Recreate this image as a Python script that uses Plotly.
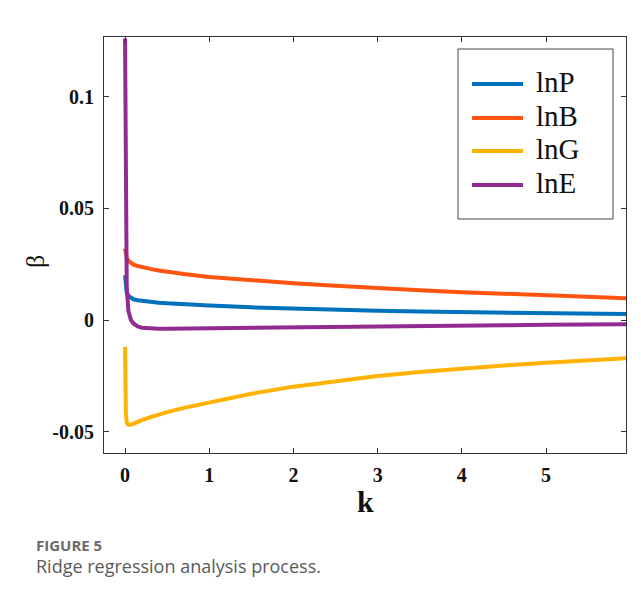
import plotly.graph_objects as go

# ---- data ----
k = [0, 0.005, 0.01, 0.02, 0.04, 0.07, 0.1, 0.15, 0.2, 0.3, 0.4, 0.5, 0.7,
     1.0, 1.5, 2.0, 2.5, 3.0, 3.5, 4.0, 4.5, 5.0, 5.5, 5.95]

lnP = [0.020, 0.016, 0.014, 0.0122, 0.0108, 0.0099, 0.0093, 0.0089, 0.0086, 0.0081,
       0.0078, 0.0075, 0.0070, 0.0065, 0.0057, 0.0051, 0.0046, 0.0042, 0.0038,
       0.0035, 0.0032, 0.0030, 0.0028, 0.0027]
lnB = [0.032, 0.030, 0.029, 0.0278, 0.0265, 0.0255, 0.0248, 0.0242, 0.0237, 0.0229,
       0.0222, 0.0216, 0.0206, 0.0193, 0.0178, 0.0165, 0.0154, 0.0142, 0.0133,
       0.0125, 0.0117, 0.0110, 0.0104, 0.0098]
lnG = [-0.012, -0.035, -0.042, -0.0458, -0.0468, -0.0468, -0.0463, -0.0455, -0.0448,
       -0.0435, -0.0423, -0.0412, -0.0393, -0.0370, -0.0330, -0.0298, -0.0272,
       -0.0250, -0.0232, -0.0216, -0.0203, -0.0191, -0.0180, -0.0171]
lnE = [0.126, 0.06, 0.035, 0.015, 0.004, 0.0, -0.0015, -0.0028, -0.0034, -0.0038,
       -0.0039, -0.0039, -0.0038, -0.0036, -0.0034, -0.0032, -0.0030, -0.0028,
       -0.0026, -0.0024, -0.0023, -0.0021, -0.0020, -0.0019]

series_names = ["lnP", "lnB", "lnG", "lnE"]
series_values = [lnP, lnB, lnG, lnE]
series_colors = ["#0072BD", "#FF5310", "#FFB300", "#922B8F"]

x_ticks = [0, 1, 2, 3, 4, 5]
y_ticks = [-0.05, 0, 0.05, 0.1]
y_tick_labels = ["-0.05", "0", "0.05", "0.1"]

# ---- layout geometry (window pixels; page body has an 8px margin) ----
OFF = 8
WIN_W, WIN_H = 641, 603
W, H = WIN_W - OFF, WIN_H - OFF
PL, PR, PT, PB = 104, 626, 37, 453          # plot area in window pixels
L, T = PL - OFF, PT - OFF
R, B = (OFF + W) - PR, (OFF + H) - PB
PW, PH = PR - PL, PB - PT


def px(x):
    return (x - PL) / PW


def py(y):
    return (PB - y) / PH


SERIF = "Liberation Serif, Times New Roman, serif"
SANS = "Open Sans, Noto Sans, sans-serif"

fig = go.Figure()
for name, vals, col in zip(series_names, series_values, series_colors):
    fig.add_trace(go.Scatter(x=k, y=vals, mode="lines", name=name,
                             line=dict(color=col, width=4),
                             showlegend=False))

axis_common = dict(showline=True, linecolor="#333333", linewidth=1, mirror="ticks",
                   ticks="inside", ticklen=5, tickcolor="#333333",
                   showgrid=False, zeroline=False,
                   tickfont=dict(family=SERIF, size=20, color="#111111"))

fig.update_xaxes(range=[-0.25, 5.95], tickvals=x_ticks,
                 ticktext=[f"<b>{t}</b>" for t in x_ticks],
                 ticklabelstandoff=4, **axis_common)
fig.update_yaxes(range=[-0.0595, 0.1267], tickvals=y_ticks,
                 ticktext=[f"<b>{t}</b>" for t in y_tick_labels],
                 ticklabelstandoff=5, **axis_common)

shapes = []
annotations = []

# manual legend
shapes.append(dict(type="rect", xref="paper", yref="paper",
                   x0=px(458), x1=px(613), y0=py(49), y1=py(219),
                   line=dict(color="#444444", width=1), fillcolor="white"))
leg_y = [84, 118, 151, 185]
for name, col, yy in zip(series_names, series_colors, leg_y):
    shapes.append(dict(type="line", xref="paper", yref="paper",
                       x0=px(472), x1=px(523), y0=py(yy), y1=py(yy),
                       line=dict(color=col, width=4)))
    annotations.append(dict(xref="paper", yref="paper", x=px(534), y=py(yy - 2),
                            text=name, showarrow=False, xanchor="left",
                            yanchor="middle",
                            font=dict(family=SERIF, size=29, color="#111111")))

# axis titles
annotations.append(dict(xref="paper", yref="paper", x=px(365), y=py(501),
                        text="<b>k</b>", showarrow=False, xanchor="center",
                        yanchor="middle",
                        font=dict(family=SERIF, size=30, color="#111111")))
annotations.append(dict(xref="paper", yref="paper", x=px(35), y=py(262),
                        text="β", showarrow=False, xanchor="center",
                        yanchor="middle", textangle=-90,
                        font=dict(family=SERIF, size=26, color="#111111")))

# caption
annotations.append(dict(xref="paper", yref="paper", x=px(34), y=py(545),
                        text="<b>FIGURE 5</b>", showarrow=False, xanchor="left",
                        yanchor="middle",
                        font=dict(family=SANS, size=15, color="#6b6b6b")))
annotations.append(dict(xref="paper", yref="paper", x=px(34), y=py(566),
                        text="Ridge regression analysis process.", showarrow=False,
                        xanchor="left", yanchor="middle",
                        font=dict(family=SANS, size=18, color="#5a5a5a")))

fig.update_layout(width=W, height=H, margin=dict(l=L, r=R, t=T, b=B),
                  paper_bgcolor="white", plot_bgcolor="white",
                  shapes=shapes, annotations=annotations, showlegend=False)

fig.write_html("out.html")
